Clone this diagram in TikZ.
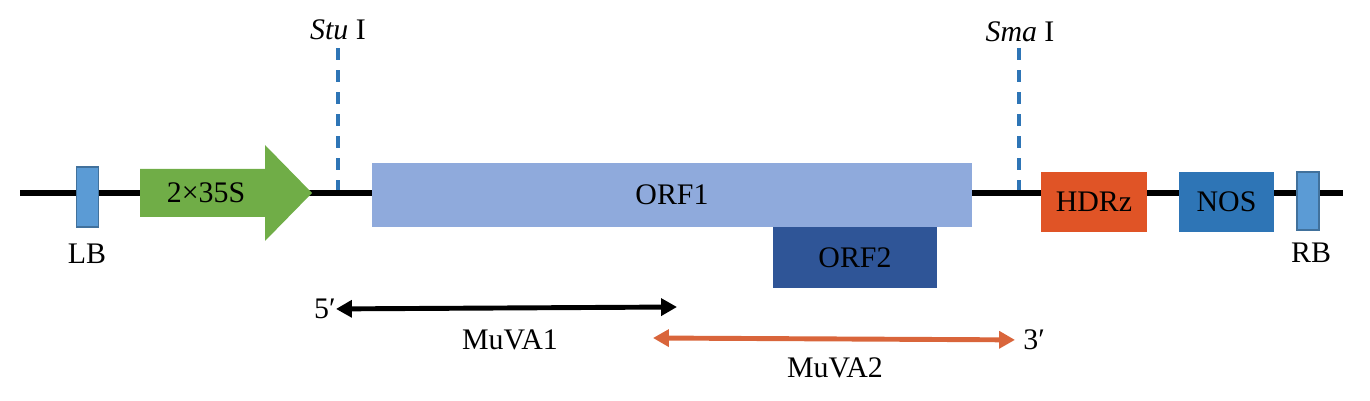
\documentclass[tikz,border=0pt]{standalone}
\usepackage{fontspec}
\setmainfont{Liberation Serif}
\usetikzlibrary{arrows.meta}
\definecolor{bordfill}{HTML}{5B9BD5}
\definecolor{bordline}{HTML}{41719C}
\definecolor{promgreen}{HTML}{70AD47}
\definecolor{orfone}{HTML}{8FAADC}
\definecolor{orftwo}{HTML}{2F5597}
\definecolor{hdrzred}{HTML}{E05426}
\definecolor{nosblue}{HTML}{2E75B6}
\definecolor{cutblue}{HTML}{2E75B6}
\definecolor{muvaorange}{HTML}{D9653B}
\def\liney{193}
\tikzset{
  lbl/.style={inner sep=0pt, font=\fontsize{17}{20}\selectfont},
  part/.style={lbl, minimum height=1.2cm},
  border/.style={fill=bordfill, draw=bordline, line width=0.8pt, minimum width=0.45cm, minimum height=1.2cm, inner sep=0pt},
  cut/.style={cutblue, line width=2pt, dash pattern=on 6.8pt off 5.7pt},
  muva/.style={line width=2.8pt, {Triangle[length=9pt,width=9.5pt]}-{Triangle[length=9pt,width=9.5pt]}},
}

\begin{document}
\begin{tikzpicture}[x=0.02cm, y=-0.02cm]
    \useasboundingbox (0,0) rectangle (1370,401);
    \coordinate (lineL) at (20,\liney);
    \coordinate (lineR) at (1343,\liney);
    \draw[line width=3.4pt] (lineL) -- (lineR);
    \node[border] (lb) at (87.5,197) {};
    \node[border, minimum width=0.44cm, minimum height=1.16cm] (rb) at (1308,201) {};
    \node[lbl] (lbtext) at (87,254) {LB};
    \node[lbl] (rbtext) at (1311,253) {RB};
    \fill[promgreen] (140,169) -- (265,169) -- (265,145) -- (312,\liney) -- (265,241) -- (265,217) -- (140,217) -- cycle;
    \node[lbl] (prom) at (206,193) {2×35S};
    \node[part, fill=orfone, minimum width=12cm, minimum height=1.28cm] (orf1) at (672,195) {ORF1};
    \node[part, fill=orftwo, minimum width=3.28cm, minimum height=1.22cm] (orf2) at (855,257.5) {ORF2};
    \node[part, fill=hdrzred, minimum width=2.12cm] (hdrz) at (1094,202) {HDRz};
    \node[part, fill=nosblue, minimum width=1.9cm] (nos) at (1226.5,202) {NOS};
    \node[lbl] (stu) at (338,30) {\textit{Stu} I};
    \node[lbl] (sma) at (1020,32) {\textit{Sma} I};
    \coordinate (stucut) at (338,190);
    \coordinate (smacut) at (1019,190);
    \draw[cut] ([yshift=-0.16cm]stu.south) -- (stucut);
    \draw[cut] ([yshift=-0.12cm,xshift=-0.02cm]sma.south) -- (smacut);
    \node[lbl, anchor=east] (five) at (336,309) {5′};
    \coordinate (mu1end) at (677,307);
    \draw[muva] (five) -- (mu1end);
    \node[lbl] (muva1) at (510,340) {MuVA1};
    \node[lbl, anchor=west] (three) at (1023,340) {3′};
    \coordinate (mu2start) at (653,338);
    \draw[muva, muvaorange, shorten >=0.16cm] (mu2start) -- (three);
    \node[lbl] (muva2) at (835,368) {MuVA2};
\end{tikzpicture}
\end{document}
